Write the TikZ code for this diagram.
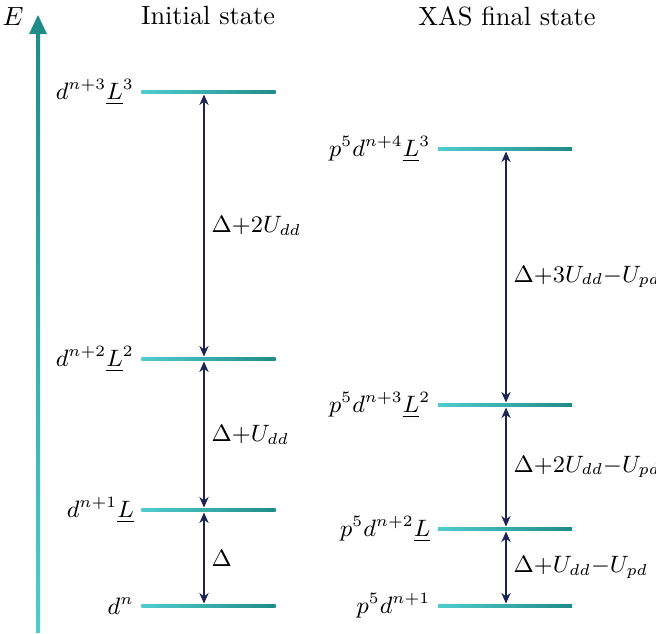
\documentclass[tikz,border=0pt]{standalone}
\usepackage{amsmath}
\usepackage{tikz}
\usetikzlibrary{arrows.meta, positioning}

\definecolor{tealdark}{RGB}{32,140,136}
\definecolor{teallight}{RGB}{80,204,206}
\definecolor{gapnavy}{RGB}{28,36,84}

\begin{document}
\begin{tikzpicture}[
		x=0.01335cm, y=-0.01335cm,
		level/.style={
			left color=teallight,
			right color=tealdark,
			inner sep=0pt,
			minimum width=1.79cm,
			minimum height=1.5pt
		},
		config/.style={font=\small, inner sep=1pt, left=1.5pt of #1},
		gap/.style={
			{Stealth[length=4pt,width=3.5pt]}-{Stealth[length=4pt,width=3.5pt]},
			draw=gapnavy,
			line width=0.8pt
		},
		energy/.style={font=\fontsize{9.2}{11}\selectfont, inner sep=2pt, right=0.5pt}
		]
		
		\useasboundingbox (0,0) rectangle (656,633);
		
		% Energy axis
		\shade[bottom color=teallight, top color=tealdark] (36,632) rectangle (40,33);
		\fill[tealdark] (29,34) -- (47,34) -- (38,15) -- cycle;
		\node at (13,16) (axislabel) {$E$};
		
		% Titles
		\node at (208,16) (initial) {Initial state};
		\node at (507,16) (final) {XAS final state};
		
		% Initial state levels
		\node[level] at (208.5,606) (i0) {};
		\node[level] at (208.5,510) (i1) {};
		\node[level] at (208.5,359) (i2) {};
		\node[level] at (208.5,92) (i3) {};
		\node[config=i0] {$d^{n}$};
		\node[config=i1] {$d^{n+1}\underline{L}$};
		\node[config=i2] {$d^{n+2}\underline{L}^2$};
		\node[config=i3] {$d^{n+3}\underline{L}^3$};
		
		% Final state levels
		\node[level] at (505,606) (f0) {};
		\node[level] at (505,529) (f1) {};
		\node[level] at (505,405) (f2) {};
		\node[level] at (505,149) (f3) {};
		\node[config=f0] {$p^5d^{n+1}$};
		\node[config=f1] {$p^5d^{n+2}\underline{L}$};
		\node[config=f2] {$p^5d^{n+3}\underline{L}^2$};
		\node[config=f3] {$p^5d^{n+4}\underline{L}^3$};
		
		% Gaps
		\coordinate (lgap) at (204,0);
		\coordinate (rgap) at (506,0);
		\draw[gap] (i0.north -| lgap) -- node[energy] {$\Delta$} (i1.south -| lgap);
		\draw[gap] (i1.north -| lgap) -- node[energy] {$\Delta{+}U_{dd}$} (i2.south -| lgap);
		\draw[gap] (i2.north -| lgap) -- node[energy] {$\Delta{+}2U_{dd}$} (i3.south -| lgap);
		\draw[gap] (f0.north -| rgap) -- node[energy] {$\Delta{+}U_{dd}{-}U_{pd}$} (f1.south -| rgap);
		\draw[gap] (f1.north -| rgap) -- node[energy] {$\Delta{+}2U_{dd}{-}U_{pd}$} (f2.south -| rgap);
		\draw[gap] (f2.north -| rgap) -- node[energy] {$\Delta{+}3U_{dd}{-}U_{pd}$} (f3.south -| rgap);
		
	\end{tikzpicture}
\end{document}
